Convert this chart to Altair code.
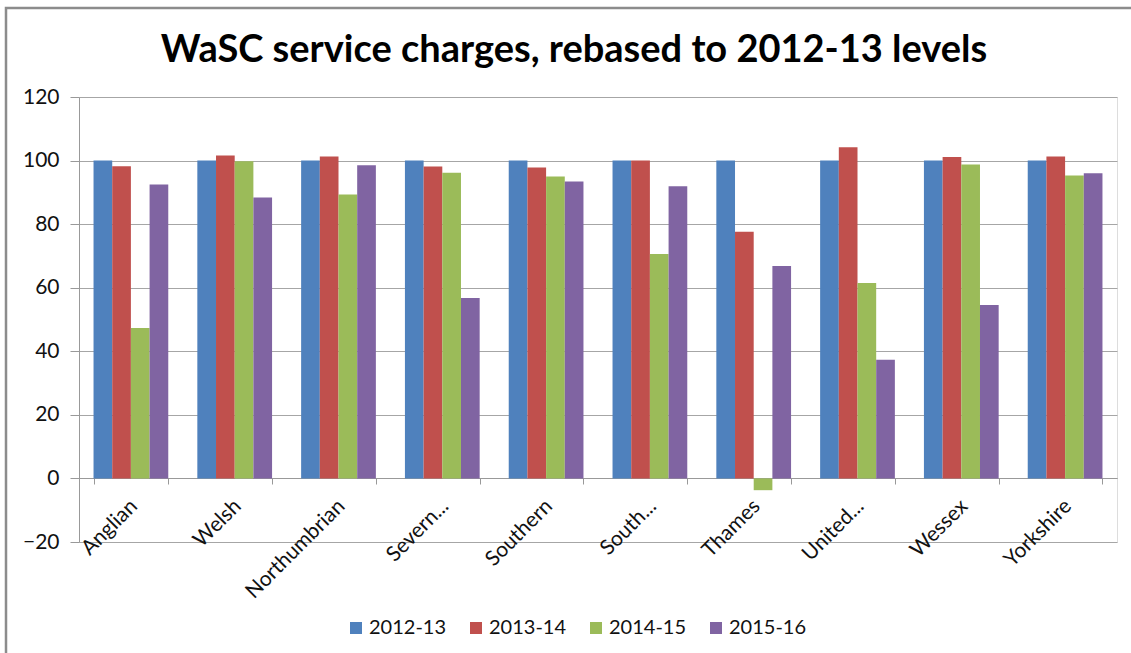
import altair as alt
import pandas as pd

companies = ["Anglian", "Welsh", "Northumbrian", "Severn...", "Southern",
             "South...", "Thames", "United...", "Wessex", "Yorkshire"]
years = ["2012-13", "2013-14", "2014-15", "2015-16"]
v2012 = [100, 100, 100, 100, 100, 100, 100, 100, 100, 100]
v2013 = [98.2, 101.6, 101.3, 98.1, 97.8, 100.0, 77.6, 104.2, 101.1, 101.3]
v2014 = [47.3, 99.8, 89.3, 96.2, 95.0, 70.6, -3.7, 61.5, 98.8, 95.3]
v2015 = [92.5, 88.4, 98.5, 56.8, 93.4, 91.9, 66.8, 37.3, 54.6, 96.0]
colors = ["#4F81BD", "#C0504D", "#9BBB59", "#8064A2"]
y_ticks = [-20, 0, 20, 40, 60, 80, 100, 120]

rows = []
for yr, vals in zip(years, [v2012, v2013, v2014, v2015]):
    for c, v in zip(companies, vals):
        rows.append({"company": c, "year": yr, "value": v})
df = pd.DataFrame(rows)

FONT = "Lato"
W, H = 1038, 445

bars = alt.Chart(df).mark_bar().encode(
    x=alt.X("company:N", sort=companies, title=None,
            scale=alt.Scale(paddingInner=0.28, paddingOuter=0.14),
            axis=alt.Axis(labelAngle=-45, labelAlign="right", labelBaseline="top",
                          labelFontSize=21, labelFont=FONT, labelColor="#111",
                          labelPadding=11, labelOffset=-5, tickBand="extent", tickSize=6,
                          tickColor="#999", domainColor="#999", offset=-64,
                          grid=False)),
    xOffset=alt.XOffset("year:N", sort=years),
    y=alt.Y("value:Q", title=None,
            scale=alt.Scale(domain=[-20, 120], nice=False, zero=False),
            axis=alt.Axis(values=y_ticks, labelFontSize=21, labelFont=FONT,
                          labelColor="#111", tickSize=9, tickColor="#999",
                          domainColor="#999", gridColor="#a6a6a6", labelPadding=11)),
    color=alt.Color("year:N", sort=years,
                    scale=alt.Scale(domain=years, range=colors),
                    legend=alt.Legend(title=None, orient="none", direction="horizontal",
                                      legendX=267, legendY=521, symbolType="square",
                                      symbolSize=144, symbolStrokeWidth=0,
                                      labelFontSize=20, labelFont=FONT,
                                      labelColor="#111", columnPadding=19,
                                      labelOffset=3, symbolOpacity=1)),
)

frame = alt.Chart(pd.DataFrame({"a": [0]})).mark_rect(
    fill=None, stroke="#8c8c8c", strokeWidth=2.5
).encode(x=alt.value(-73), x2=alt.value(1200), y=alt.value(-89), y2=alt.value(700))

chart = alt.layer(bars, frame).properties(
    width=W, height=H,
    title=alt.TitleParams("WaSC service charges, rebased to 2012-13 levels",
                          font=FONT, fontSize=38, fontWeight="bold", color="#000",
                          dx=-24, dy=91, offset=28),
    autosize=alt.AutoSizeParams(type="none"),
    padding={"left": 79, "top": 97, "right": 14, "bottom": 111},
).configure_view(stroke=None).configure(background="white")

chart.save("out.html", embed_options={"renderer": "svg", "actions": False})
